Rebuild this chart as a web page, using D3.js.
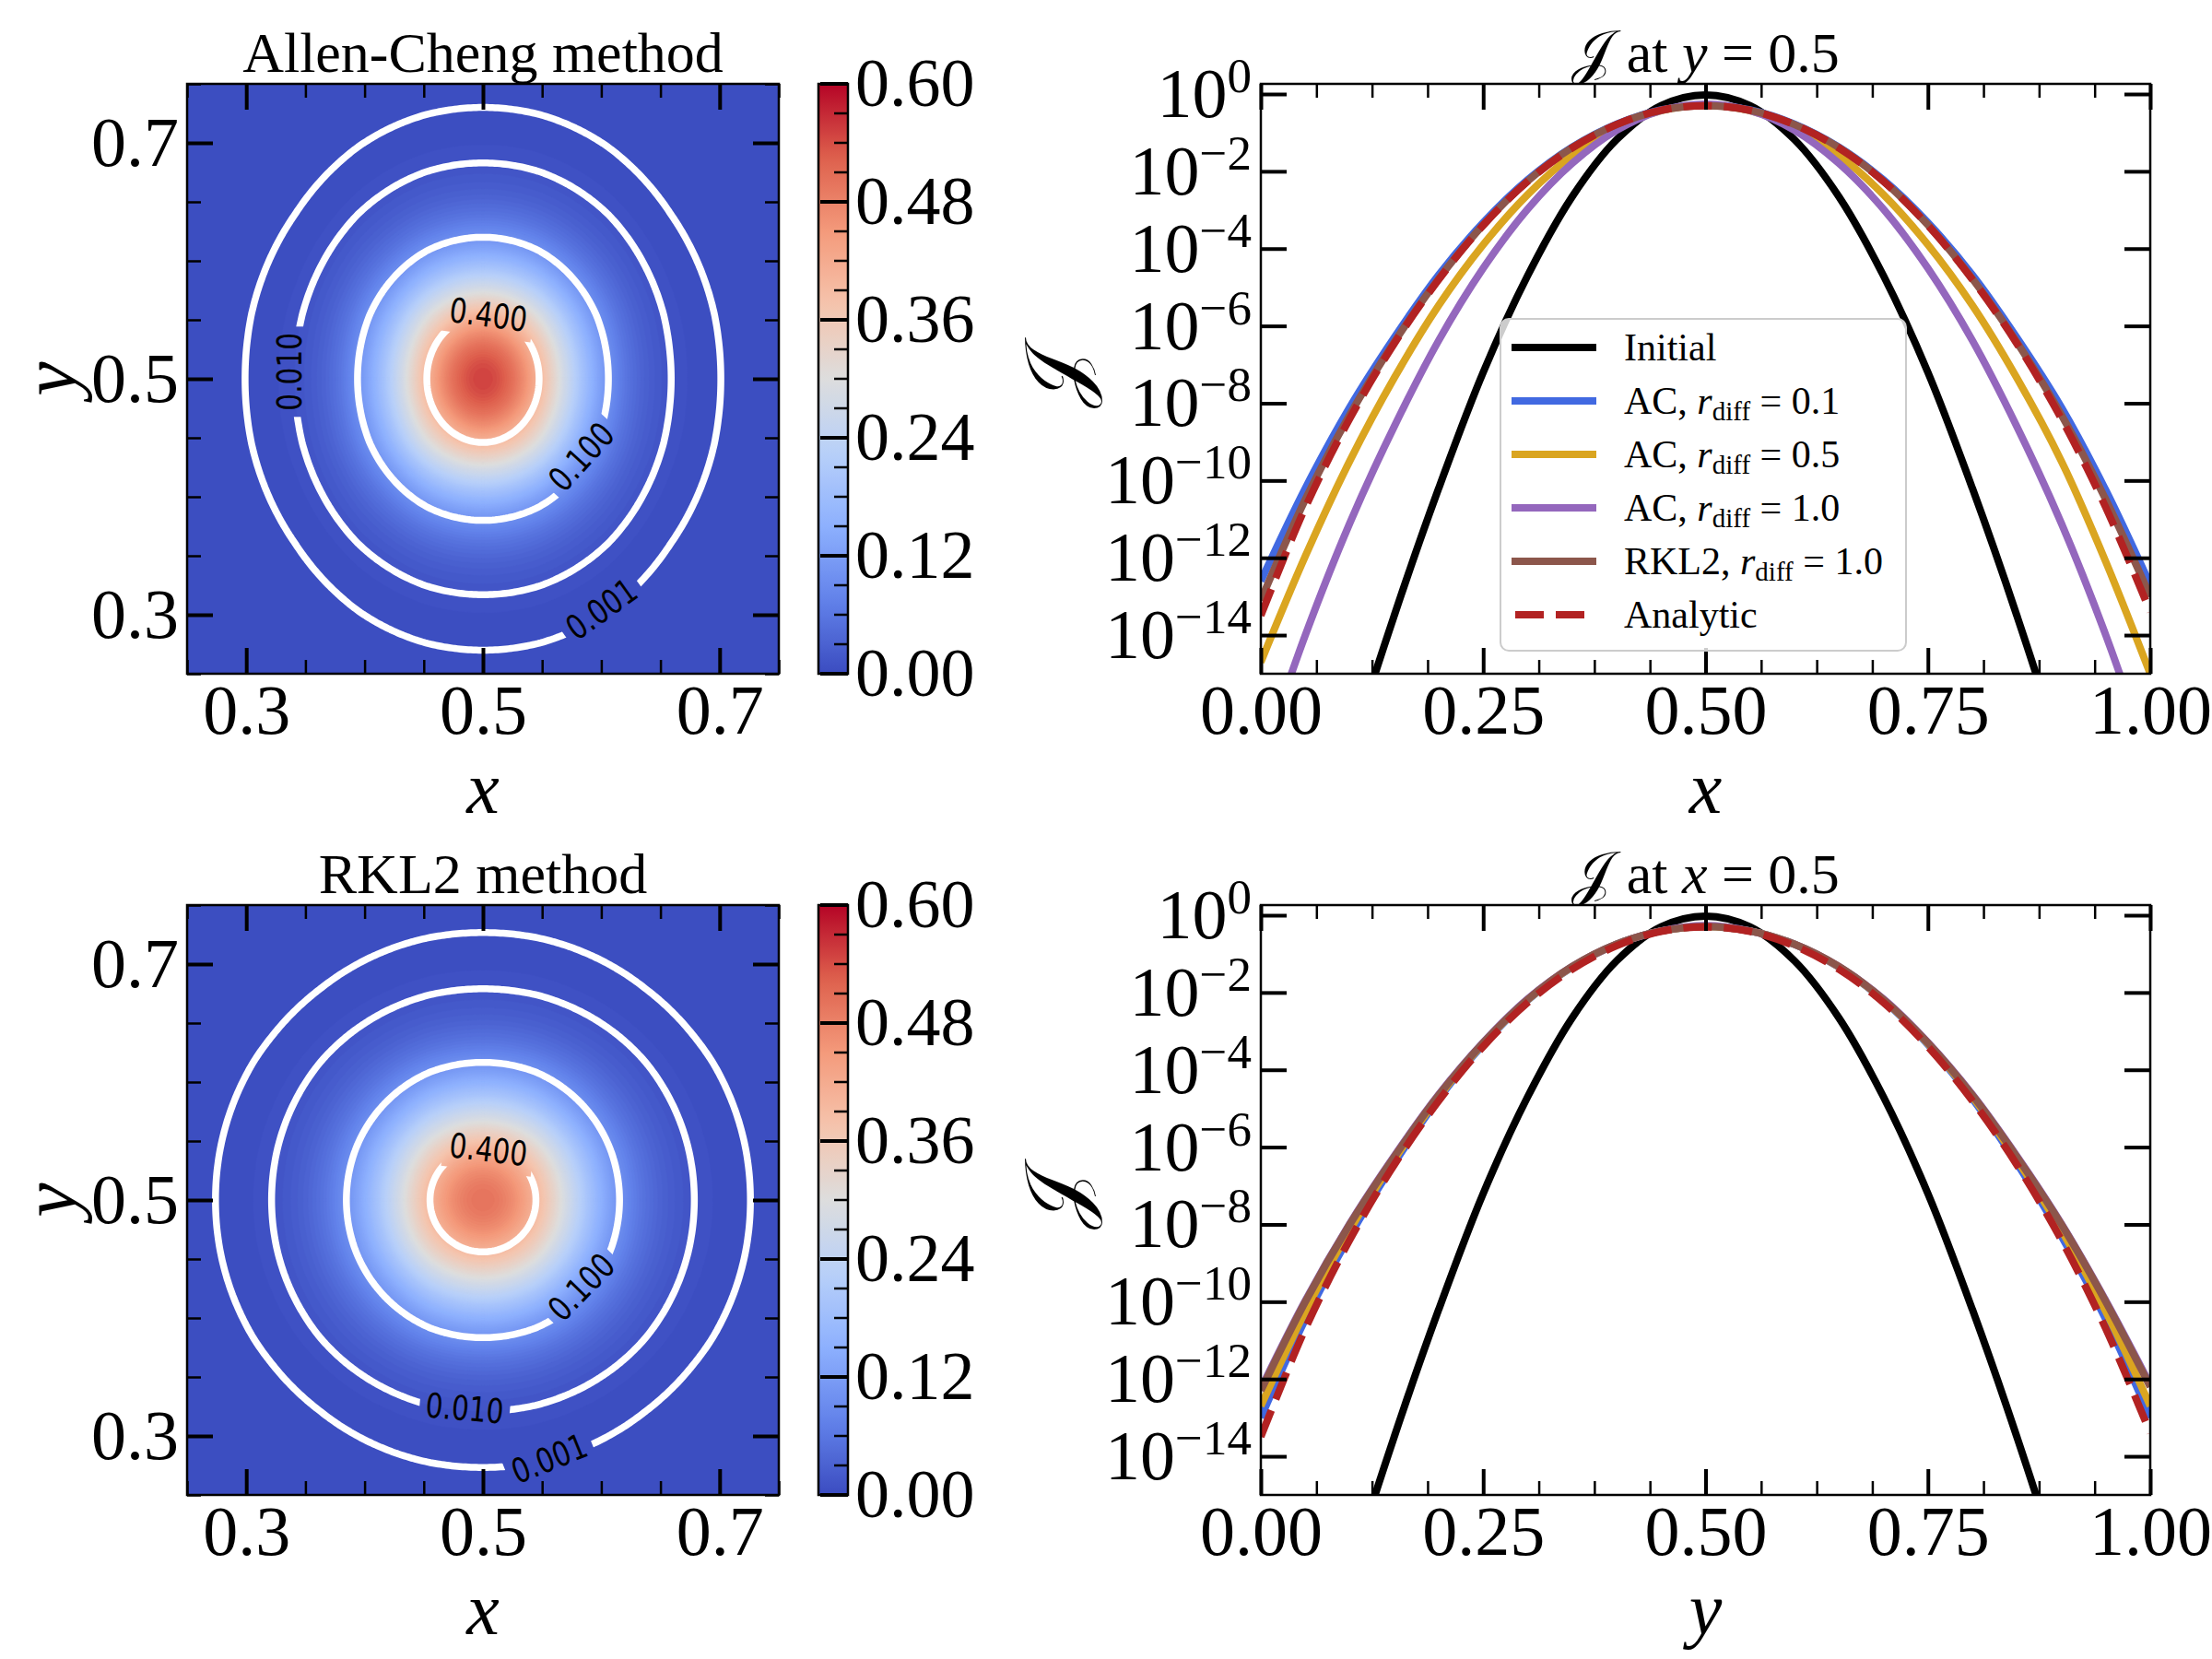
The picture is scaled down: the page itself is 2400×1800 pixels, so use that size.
<!DOCTYPE html>
<html>
<head>
<meta charset="utf-8" />
<title>Diffusion test: Allen-Cheng vs RKL2</title>
<script src="https://d3js.org/d3.v7.min.js"></script>
<style>
  body { margin: 0; background: #ffffff; }
  text { white-space: pre; }
</style>
</head>
<body>
<svg id="fig" width="2400" height="1800"></svg>
<script>
var serif = "'Liberation Serif', 'DejaVu Serif', serif";
var mathFont = "'DejaVu Serif', 'DejaVu Sans', 'Noto Sans', serif";

// ---------------- data ----------------
// positions of the 1D cuts
var cutPos = [0, 0.05, 0.1, 0.15, 0.2, 0.25, 0.3, 0.35, 0.4, 0.45, 0.5,
              0.55, 0.6, 0.65, 0.7, 0.75, 0.8, 0.85, 0.9, 0.95, 1];

// J along x at y = 0.5
var initialCut = [1e-26, 3.2e-22, 7.9e-18, 3.2e-14, 6.3e-11, 6.3e-8, 2.0e-5, 2.2e-3, 6.6e-2, 0.50, 0.95,
                  0.50, 6.6e-2, 2.2e-3, 2.0e-5, 6.3e-8, 6.3e-11, 3.2e-14, 7.9e-18, 3.2e-22, 1e-26];
var acR01X = [2.5e-13, 6.3e-11, 7.9e-9, 5.0e-7, 2.1e-5, 4.7e-4, 6.0e-3, 4.2e-2, 0.166, 0.389, 0.513,
              0.389, 0.166, 4.2e-2, 6.0e-3, 4.7e-4, 2.1e-5, 5.0e-7, 7.9e-9, 5.6e-11, 2.0e-13];
var acR05X = [2.0e-15, 1.1e-12, 3.2e-10, 4.5e-8, 3.4e-6, 1.26e-4, 2.5e-3, 2.6e-2, 0.135, 0.372, 0.513,
              0.372, 0.135, 2.6e-2, 2.5e-3, 1.26e-4, 3.4e-6, 4.5e-8, 3.2e-10, 7.9e-13, 1.0e-15];
var acR10X = [5.0e-18, 1.0e-14, 7.9e-12, 2.5e-9, 4.2e-7, 3.1e-5, 1.05e-3, 1.6e-2, 0.115, 0.372, 0.55,
              0.372, 0.115, 1.6e-2, 1.05e-3, 3.1e-5, 4.2e-7, 2.5e-9, 7.9e-12, 1.0e-14, 5.0e-18];
var rklX   = [7.9e-14, 3.2e-11, 5.0e-9, 3.8e-7, 1.66e-5, 4.1e-4, 5.6e-3, 4.1e-2, 0.162, 0.38, 0.50,
              0.38, 0.162, 4.1e-2, 5.6e-3, 4.1e-4, 1.66e-5, 3.8e-7, 5.0e-9, 3.2e-11, 1.0e-13];
var analyticCut = [3.2e-14, 2.0e-11, 4.0e-9, 3.5e-7, 1.58e-5, 4.0e-4, 5.5e-3, 4.0e-2, 0.162, 0.38, 0.50,
                   0.38, 0.162, 4.0e-2, 5.5e-3, 4.0e-4, 1.58e-5, 3.5e-7, 4.0e-9, 2.0e-11, 4.0e-14];

// J along y at x = 0.5
var acR01Y = [1.0e-13, 3.5e-11, 5.0e-9, 3.8e-7, 1.78e-5, 4.5e-4, 6.3e-3, 4.5e-2, 0.178, 0.389, 0.513,
              0.389, 0.178, 4.5e-2, 6.3e-3, 4.5e-4, 1.78e-5, 3.8e-7, 5.0e-9, 3.5e-11, 1.0e-13];
var acR05Y = [2.0e-13, 5.6e-11, 7.1e-9, 4.7e-7, 2.0e-5, 4.8e-4, 6.5e-3, 4.6e-2, 0.178, 0.389, 0.513,
              0.389, 0.178, 4.6e-2, 6.5e-3, 4.8e-4, 2.0e-5, 4.7e-7, 7.1e-9, 5.6e-11, 2.0e-13];
var acR10Y = [5.6e-13, 1.07e-10, 1.05e-8, 5.9e-7, 2.3e-5, 5.1e-4, 6.8e-3, 4.7e-2, 0.178, 0.389, 0.537,
              0.389, 0.178, 4.7e-2, 6.8e-3, 5.1e-4, 2.3e-5, 5.9e-7, 1.05e-8, 1.07e-10, 7.1e-13];
var rklY   = [5.0e-13, 1.0e-10, 1.0e-8, 5.6e-7, 2.2e-5, 5.0e-4, 6.6e-3, 4.7e-2, 0.178, 0.389, 0.513,
              0.389, 0.178, 4.7e-2, 6.6e-3, 5.0e-4, 2.2e-5, 5.6e-7, 1.0e-8, 1.0e-10, 6.3e-13];

// 2D fields: contour levels and their half-widths along x and y (through the centre)
var contourLevels = [0.001, 0.01, 0.1, 0.4];
var contourText = ["0.001", "0.010", "0.100", "0.400"];
var acPeak = 0.55;
var acHalfX = [0.201, 0.159, 0.106, 0.0475];
var acHalfY = [0.230, 0.183, 0.120, 0.054];
var rklPeak = 0.50;
var rklHalfX = [0.226, 0.1786, 0.1154, 0.0448];
var rklHalfY = [0.2267, 0.179, 0.1167, 0.044];
// inline label spots [x, y, angle]
var acLabelSpots = [[0.600, 0.305, -35.6], [0.3364, 0.506, -90], [0.583, 0.434, -47.6], [0.5047, 0.5545, 7.7]];
var rklLabelSpots = [[0.556, 0.281, -22], [0.4846, 0.3237, 5], [0.583, 0.4264, -45.6], [0.5047, 0.543, 7]];

var cbTicks = [0, 0.12, 0.24, 0.36, 0.48, 0.60];
var cbMinor = [0.03, 0.06, 0.09, 0.15, 0.18, 0.21, 0.27, 0.30, 0.33, 0.39, 0.42, 0.45, 0.51, 0.54, 0.57];
var hmMajor = [0.3, 0.5, 0.7];
var hmMinor = [0.25, 0.35, 0.4, 0.45, 0.55, 0.6, 0.65, 0.75];
var lpMajor = [0, 0.25, 0.5, 0.75, 1];
var lpMinor = [0.0625, 0.125, 0.1875, 0.3125, 0.375, 0.4375, 0.5625, 0.625, 0.6875, 0.8125, 0.875, 0.9375];
var decades = [1, 1e-2, 1e-4, 1e-6, 1e-8, 1e-10, 1e-12, 1e-14];

var coolwarmStops = ["#3b4cc0", "#6282ea", "#8db0fe", "#b8d0f9", "#dddddd", "#f5c4ad", "#f49a7b", "#de604d", "#b40426"];

// ---------------- layout ----------------
var W = 2400, H = 1800;
var rowTop = [91, 982], plotH = 640;
var hmLeft = 203, hmW = 642;
var cbLeft = 888, cbW = 32;
var lpLeft = 1368, lpW = 965;
var majLen = 28, minLen = 15;

var svg = d3.select("#fig");
var defs = svg.append("defs");
svg.append("rect").attr("width", W).attr("height", H).attr("fill", "#fff");

var coolwarm = d3.scaleLinear()
    .domain(coolwarmStops.map(function(c, i) { return 0.6 * i / (coolwarmStops.length - 1); }))
    .range(coolwarmStops)
    .interpolate(d3.interpolateRgb)
    .clamp(true);

function styleAxis(a, width, labelSize) {
    a.attr("font-family", null).attr("font-size", null);
    a.select(".domain").remove();
    a.selectAll(".tick line").attr("stroke", "#000").attr("stroke-width", width);
    a.selectAll(".tick text").attr("fill", "#000")
        .style("font-family", serif).style("font-size", (labelSize || 76) + "px");
    return a;
}

// ticks pointing inward on all four sides
function frame(g, x, y, o) {
    var x0 = x.range()[0], x1 = x.range()[1], yb = y.range()[0], yt = y.range()[1];
    styleAxis(g.append("g").attr("transform", "translate(0," + yb + ")")
        .call(d3.axisBottom(x).tickValues(o.xMajor).tickSize(-majLen).tickPadding(11).tickFormat(o.xFmt)), 4);
    styleAxis(g.append("g").attr("transform", "translate(0," + yt + ")")
        .call(d3.axisTop(x).tickValues(o.xMajor).tickSize(-majLen).tickFormat("")), 4);
    if (o.xMinor) {
        styleAxis(g.append("g").attr("transform", "translate(0," + yb + ")")
            .call(d3.axisBottom(x).tickValues(o.xMinor).tickSize(-minLen).tickFormat("")), 2.5);
        styleAxis(g.append("g").attr("transform", "translate(0," + yt + ")")
            .call(d3.axisTop(x).tickValues(o.xMinor).tickSize(-minLen).tickFormat("")), 2.5);
    }
    styleAxis(g.append("g").attr("transform", "translate(" + x0 + ",0)")
        .call(d3.axisLeft(y).tickValues(o.yMajor).tickSize(-majLen).tickPadding(9).tickFormat(o.yFmt)), 4);
    styleAxis(g.append("g").attr("transform", "translate(" + x1 + ",0)")
        .call(d3.axisRight(y).tickValues(o.yMajor).tickSize(-majLen).tickFormat("")), 4);
    if (o.yMinor) {
        styleAxis(g.append("g").attr("transform", "translate(" + x0 + ",0)")
            .call(d3.axisLeft(y).tickValues(o.yMinor).tickSize(-minLen).tickFormat("")), 2.5);
        styleAxis(g.append("g").attr("transform", "translate(" + x1 + ",0)")
            .call(d3.axisRight(y).tickValues(o.yMinor).tickSize(-minLen).tickFormat("")), 2.5);
    }
    g.append("rect").attr("x", x0).attr("y", yt).attr("width", x1 - x0).attr("height", yb - yt)
        .attr("fill", "none").attr("stroke", "#000").attr("stroke-width", 2.5);
}

// log10 of the field against squared distance from the centre, through the read contour crossings
function profile(peak, half) {
    var dom = [0].concat(half.slice().reverse().map(function(h) { return h * h; }));
    var rng = [Math.log10(peak)].concat(contourLevels.slice().reverse().map(Math.log10));
    return d3.scaleLinear().domain(dom).range(rng);
}

var n = 220;
function fieldGrid(peak, hx, hy) {
    var px = profile(peak, hx), py = profile(peak, hy), lp = Math.log10(peak);
    var vals = new Array(n * n);
    for (var j = 0; j < n; j++) {
        var dy = 0.75 - (j + 0.5) * 0.5 / n - 0.5;
        for (var i = 0; i < n; i++) {
            var dx = 0.25 + (i + 0.5) * 0.5 / n - 0.5;
            vals[i + j * n] = Math.pow(10, px(dx * dx) + py(dy * dy) - lp);
        }
    }
    return vals;
}

// colorbar gradient
var grad = defs.append("linearGradient").attr("id", "cwGrad")
    .attr("x1", 0).attr("y1", 1).attr("x2", 0).attr("y2", 0);
d3.range(61).forEach(function(i) {
    grad.append("stop").attr("offset", i / 60).attr("stop-color", coolwarm(0.6 * i / 60));
});

function heatPanel(top, title, peak, hx, hy, spots, id) {
    var x = d3.scaleLinear().domain([0.25, 0.75]).range([hmLeft, hmLeft + hmW]);
    var y = d3.scaleLinear().domain([0.25, 0.75]).range([top + plotH, top]);
    var vals = fieldGrid(peak, hx, hy);
    var proj = d3.geoTransform({
        point: function(cx, cy) { this.stream.point(hmLeft + cx * hmW / n, top + cy * plotH / n); }
    });
    var path = d3.geoPath(proj);
    var g = svg.append("g");

    var fills = d3.contours().size([n, n]).thresholds(d3.range(0, 0.6, 0.005))(vals);
    g.append("g").selectAll("path").data(fills).join("path")
        .attr("d", path)
        .attr("fill", function(d) { return coolwarm(d.value + 0.0025); })
        .attr("stroke", function(d) { return coolwarm(d.value + 0.0025); })
        .attr("stroke-width", 0.6);

    // gaps in the contour lines where the labels sit
    var mask = defs.append("mask").attr("id", id).attr("maskUnits", "userSpaceOnUse")
        .attr("x", 0).attr("y", 0).attr("width", W).attr("height", H);
    mask.append("rect").attr("width", W).attr("height", H).attr("fill", "#fff");
    spots.forEach(function(s) {
        mask.append("rect").attr("x", -49).attr("y", -24).attr("width", 98).attr("height", 48)
            .attr("fill", "#000")
            .attr("transform", "translate(" + x(s[0]) + "," + y(s[1]) + ") rotate(" + s[2] + ")");
    });
    var lines = d3.contours().size([n, n]).thresholds(contourLevels)(vals);
    g.append("g").attr("mask", "url(#" + id + ")").selectAll("path").data(lines).join("path")
        .attr("d", path).attr("fill", "none").attr("stroke", "#fff").attr("stroke-width", 7.5);
    g.append("g").selectAll("text").data(spots).join("text")
        .attr("transform", function(s) {
            return "translate(" + x(s[0]) + "," + y(s[1]) + ") rotate(" + s[2] + ") scale(0.8,1)";
        })
        .attr("text-anchor", "middle").attr("dy", "0.36em")
        .style("font-family", "'DejaVu Sans', sans-serif").style("font-size", "37px")
        .text(function(s, i) { return contourText[i]; });

    frame(g, x, y, { xMajor: hmMajor, xMinor: hmMinor, yMajor: hmMajor, yMinor: hmMinor,
                     xFmt: d3.format(".1f"), yFmt: d3.format(".1f") });

    g.append("text").attr("x", hmLeft + hmW / 2).attr("y", top - 13).attr("text-anchor", "middle")
        .style("font-family", serif).style("font-size", "62px").text(title);
    g.append("text").attr("x", hmLeft + hmW / 2).attr("y", top + plotH + 151).attr("text-anchor", "middle")
        .style("font-family", serif).style("font-size", "80px").style("font-style", "italic").text("x");
    g.append("text").attr("transform", "translate(82," + (top + plotH / 2) + ") rotate(-90)")
        .attr("text-anchor", "middle")
        .style("font-family", serif).style("font-size", "84px").style("font-style", "italic").text("y");

    // colorbar
    var cy = d3.scaleLinear().domain([0, 0.6]).range([top + plotH, top]);
    var cg = svg.append("g");
    cg.append("rect").attr("x", cbLeft).attr("y", top).attr("width", cbW).attr("height", plotH)
        .attr("fill", "url(#cwGrad)");
    cg.selectAll("line.mn").data(cbMinor).join("line")
        .attr("x1", cbLeft + cbW - minLen).attr("x2", cbLeft + cbW)
        .attr("y1", cy).attr("y2", cy).attr("stroke", "#000").attr("stroke-width", 2.5);
    cg.selectAll("line.mj").data(cbTicks).join("line")
        .attr("x1", cbLeft + 2).attr("x2", cbLeft + cbW)
        .attr("y1", cy).attr("y2", cy).attr("stroke", "#000").attr("stroke-width", 4);
    cg.append("rect").attr("x", cbLeft).attr("y", top).attr("width", cbW).attr("height", plotH)
        .attr("fill", "none").attr("stroke", "#000").attr("stroke-width", 2.5);
    cg.selectAll("text").data(cbTicks).join("text")
        .attr("x", cbLeft + cbW + 8).attr("y", cy).attr("dy", "0.33em")
        .style("font-family", serif).style("font-size", "74px")
        .text(d3.format(".2f"));
}

function linePanel(top, series, axisVar, cutVar, clipId, withLegend) {
    var x = d3.scaleLinear().domain([0, 1]).range([lpLeft, lpLeft + lpW]);
    var y = d3.scaleLog().domain([1e-15, 1.83]).range([top + plotH, top]);
    var g = svg.append("g");
    defs.append("clipPath").attr("id", clipId).append("rect")
        .attr("x", lpLeft).attr("y", top).attr("width", lpW).attr("height", plotH);

    var line = d3.line()
        .x(function(d, i) { return x(cutPos[i]); })
        .y(function(d) { return y(d); })
        .curve(d3.curveCatmullRom.alpha(0.5));
    var lg = g.append("g").attr("clip-path", "url(#" + clipId + ")");
    series.forEach(function(s) {
        lg.append("path").attr("d", line(s.values)).attr("fill", "none")
            .attr("stroke", s.color).attr("stroke-width", 8)
            .attr("stroke-dasharray", s.dash ? "31 13" : null);
    });

    frame(g, x, y, { xMajor: lpMajor, xMinor: lpMinor, yMajor: decades, yMinor: null,
                     xFmt: d3.format(".2f"), yFmt: "" });
    g.selectAll("text.dec").data(decades).join("text").attr("class", "dec")
        .attr("x", lpLeft - 10).attr("y", y).attr("text-anchor", "end")
        .style("font-family", serif).style("font-size", "76px")
        .each(function(d) {
            var e = Math.round(Math.log10(d));
            var t = d3.select(this);
            t.append("tspan").attr("dy", 25).text("10");
            t.append("tspan").attr("dy", -27).style("font-size", "53px").text(e === 0 ? "0" : "\u2212" + (-e));
        });

    var tt = g.append("text").attr("x", lpLeft + lpW / 2).attr("y", top - 13).attr("text-anchor", "middle")
        .style("font-family", serif).style("font-size", "62px");
    tt.append("tspan").style("font-family", mathFont).style("font-size", "64px").text("\uD835\uDCA5");
    tt.append("tspan").text(" at ");
    tt.append("tspan").style("font-style", "italic").text(cutVar);
    tt.append("tspan").text(" = 0.5");

    g.append("text").attr("x", lpLeft + lpW / 2).attr("y", top + plotH + 151).attr("text-anchor", "middle")
        .style("font-family", serif).style("font-size", "80px").style("font-style", "italic").text(axisVar);
    g.append("text").attr("transform", "translate(1144," + (top + plotH / 2) + ") rotate(-90)")
        .attr("text-anchor", "middle").attr("dy", "0.35em")
        .style("font-family", mathFont).style("font-size", "92px").text("\uD835\uDCA5");

    if (withLegend) {
        var lx = 1628, ly = top + 255;
        var leg = g.append("g");
        leg.append("rect").attr("x", lx).attr("y", ly).attr("width", 440).attr("height", 360).attr("rx", 9)
            .attr("fill", "rgba(255,255,255,0.8)").attr("stroke", "#cccccc").attr("stroke-width", 2);
        series.forEach(function(s, i) {
            var yy = ly + 31 + i * 58;
            leg.append("line").attr("x1", lx + 12).attr("x2", lx + 104).attr("y1", yy).attr("y2", yy)
                .attr("stroke", s.color).attr("stroke-width", 8)
                .attr("stroke-dasharray", s.dash ? "31 13" : null).attr("stroke-dashoffset", s.dash ? -4 : null);
            var t = leg.append("text").attr("x", lx + 134).attr("y", yy + 14)
                .style("font-family", serif).style("font-size", "42px");
            if (s.r) {
                t.append("tspan").text(s.method + ", ");
                t.append("tspan").style("font-style", "italic").text("r");
                t.append("tspan").attr("dy", 7).style("font-size", "29px").text("diff");
                t.append("tspan").attr("dy", -7).text(" = " + s.r);
            } else {
                t.text(s.method);
            }
        });
    }
}

var topSeries = [
    { method: "Initial", color: "#000000", values: initialCut },
    { method: "AC", r: "0.1", color: "#4169e1", values: acR01X },
    { method: "AC", r: "0.5", color: "#daa520", values: acR05X },
    { method: "AC", r: "1.0", color: "#9467bd", values: acR10X },
    { method: "RKL2", r: "1.0", color: "#8c564b", values: rklX },
    { method: "Analytic", color: "#b22222", dash: true, values: analyticCut }
];
var bottomSeries = [
    { method: "Initial", color: "#000000", values: initialCut },
    { method: "AC", r: "0.1", color: "#4169e1", values: acR01Y },
    { method: "AC", r: "0.5", color: "#daa520", values: acR05Y },
    { method: "AC", r: "1.0", color: "#9467bd", values: acR10Y },
    { method: "RKL2", r: "1.0", color: "#8c564b", values: rklY },
    { method: "Analytic", color: "#b22222", dash: true, values: analyticCut }
];

heatPanel(rowTop[0], "Allen-Cheng method", acPeak, acHalfX, acHalfY, acLabelSpots, "maskAC");
heatPanel(rowTop[1], "RKL2 method", rklPeak, rklHalfX, rklHalfY, rklLabelSpots, "maskRKL");
linePanel(rowTop[0], topSeries, "x", "y", "clipTop", true);
linePanel(rowTop[1], bottomSeries, "y", "x", "clipBot", false);
</script>
</body>
</html>
